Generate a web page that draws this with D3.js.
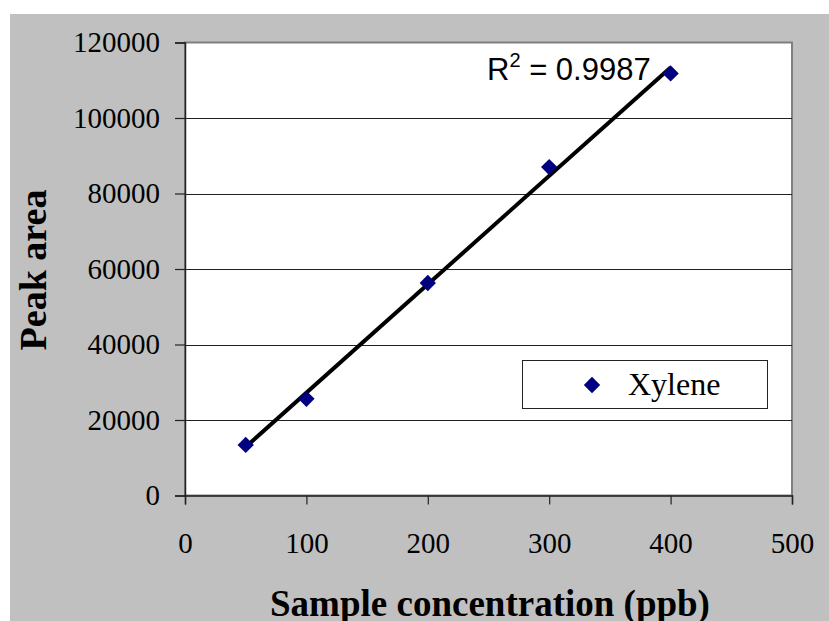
<!DOCTYPE html>
<html>
<head>
<meta charset="utf-8">
<script src="https://cdn.jsdelivr.net/npm/d3@7"></script>
<style>
  html, body { margin: 0; padding: 0; background: #ffffff; }
  svg { display: block; }
</style>
</head>
<body>
<script>
// Calibration data: xylene peak area vs. sample concentration
const concentrations = [50, 100, 200, 300, 400];
const peakAreas = [13400, 25600, 56300, 87000, 111800];
const seriesName = "Xylene";
const rSquaredLabel = "0.9987";
const xTicks = [0, 100, 200, 300, 400, 500];
const yTicks = [0, 20000, 40000, 60000, 80000, 100000, 120000];

const W = 829, H = 621;
const serif = "'Liberation Serif', 'Times New Roman', serif";
const svg = d3.select("body").append("svg").attr("width", W).attr("height", H);

// chart area background
svg.append("rect").attr("x", 10).attr("y", 14).attr("width", W - 10).attr("height", H - 14)
  .attr("fill", "#c0c0c0");

const plot = { left: 185, top: 42.5, right: 792, bottom: 495.5 };
const x = d3.scaleLinear().domain([0, 500]).range([plot.left, plot.right]);
const y = d3.scaleLinear().domain([0, 120000]).range([plot.bottom, plot.top]);

// plot area
svg.append("rect").attr("x", plot.left).attr("y", plot.top)
  .attr("width", plot.right - plot.left).attr("height", plot.bottom - plot.top)
  .attr("fill", "#ffffff").attr("stroke", "#808080").attr("stroke-width", 2);

// horizontal gridlines
svg.append("g").selectAll("line").data(yTicks.filter(t => t > 0 && t < 120000)).join("line")
  .attr("x1", plot.left).attr("x2", plot.right)
  .attr("y1", d => Math.round(y(d)) + 0.5).attr("y2", d => Math.round(y(d)) + 0.5)
  .attr("stroke", "#222").attr("stroke-width", 1);

// axes
const yAxis = svg.append("g").attr("transform", `translate(${plot.left},0)`)
  .call(d3.axisLeft(y).tickValues(yTicks).tickFormat(d3.format("d")).tickSize(10).tickPadding(15));
const xAxis = svg.append("g").attr("transform", `translate(0,${plot.bottom})`)
  .call(d3.axisBottom(x).tickValues(xTicks).tickFormat(d3.format("d")).tickSize(9));
xAxis.selectAll(".tick text").attr("y", 57).attr("dy", null);
[yAxis, xAxis].forEach(g => {
  g.select(".domain").attr("stroke", "#222").attr("stroke-width", 1.5);
  g.selectAll(".tick line").attr("stroke", "#222").attr("stroke-width", 1.2);
  g.selectAll("text").attr("font-family", serif).attr("font-size", 29).attr("fill", "#000");
});

// least-squares trendline
const n = concentrations.length;
const mx = d3.mean(concentrations), my = d3.mean(peakAreas);
let sxy = 0, sxx = 0;
for (let i = 0; i < n; i++) {
  sxy += (concentrations[i] - mx) * (peakAreas[i] - my);
  sxx += (concentrations[i] - mx) ** 2;
}
const slope = sxy / sxx, intercept = my - slope * mx;
const xMin = d3.min(concentrations), xMax = d3.max(concentrations);
svg.append("line")
  .attr("x1", x(xMin)).attr("y1", y(slope * xMin + intercept))
  .attr("x2", x(xMax)).attr("y2", y(slope * xMax + intercept))
  .attr("stroke", "#000").attr("stroke-width", 4);

// data markers
const diamond = d3.symbol().type(d3.symbolDiamond2).size(170);
svg.append("g").selectAll("path").data(concentrations).join("path")
  .attr("d", diamond)
  .attr("transform", (d, i) => `translate(${x(d)},${y(peakAreas[i])})`)
  .attr("fill", "#000080");

// R² annotation
const rt = svg.append("text").attr("x", 487).attr("y", 80)
  .attr("font-family", "'Liberation Sans', Arial, sans-serif").attr("font-size", 31).attr("fill", "#000");
rt.append("tspan").text("R");
rt.append("tspan").attr("dy", -13).attr("font-size", 20).text("2");
rt.append("tspan").attr("dy", 13).text(" = " + rSquaredLabel);

// legend
const lg = svg.append("g");
lg.append("rect").attr("x", 522.5).attr("y", 360.5).attr("width", 245).attr("height", 48)
  .attr("fill", "#fff").attr("stroke", "#222").attr("stroke-width", 1);
lg.append("path").attr("d", diamond).attr("transform", "translate(592,385)").attr("fill", "#000080");
lg.append("text").attr("x", 628).attr("y", 395)
  .attr("font-family", serif).attr("font-size", 32).text(seriesName);

// axis titles
svg.append("text").attr("x", 490).attr("y", 616).attr("text-anchor", "middle")
  .attr("font-family", serif).attr("font-weight", "bold")
  .attr("font-size", 37).text("Sample concentration (ppb)");
svg.append("text").attr("transform", "translate(46,270) rotate(-90)").attr("text-anchor", "middle")
  .attr("font-family", serif).attr("font-weight", "bold")
  .attr("font-size", 38).text("Peak area");
</script>
</body>
</html>
